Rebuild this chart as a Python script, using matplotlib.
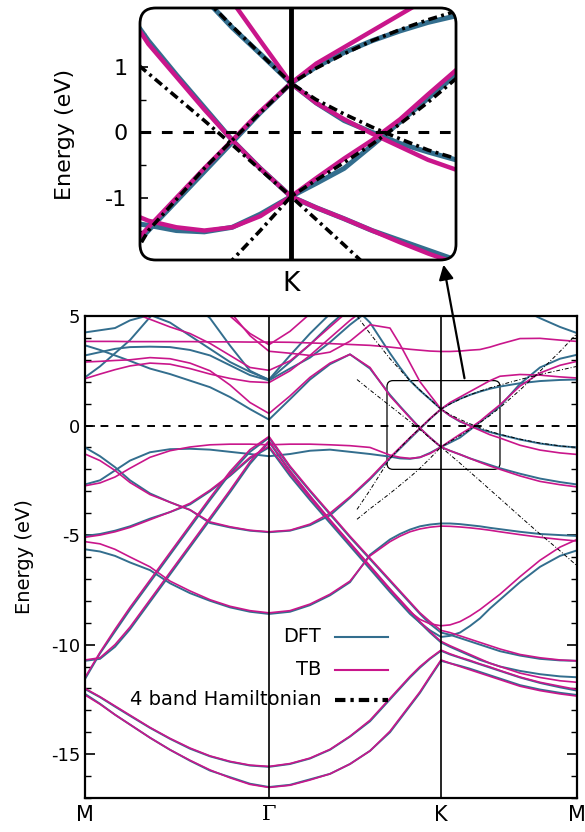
import matplotlib
matplotlib.use("Agg")
import numpy as np
import matplotlib.pyplot as plt
from matplotlib.patches import FancyBboxPatch, FancyArrowPatch
from matplotlib.ticker import MultipleLocator

plt.rcParams['axes.unicode_minus'] = False

# path coordinate: M=0, Gamma=1.84, K=3.56, M=4.92
k = [0.00, 0.15, 0.30, 0.45, 0.65, 0.85, 1.05, 1.25, 1.45, 1.65, 1.84,
     2.05, 2.25, 2.45, 2.65, 2.85, 3.05, 3.15, 3.25, 3.35, 3.45, 3.56,
     3.65, 3.75, 3.85, 3.95, 4.05, 4.15, 4.35, 4.55, 4.75, 4.92]
k_ticks = [0.00, 1.84, 3.56, 4.92]
k_labels = ['M', 'Γ', 'K', 'M']

# DFT bands (eV)
dft_b1 = [-12.25, -12.7, -13.2, -13.65, -14.25, -14.8, -15.3, -15.75, -16.05, -16.35, -16.5,
          -16.4, -16.15, -15.9, -15.45, -14.85, -14.0, -13.4, -12.8, -12.2, -11.5, -10.74,
          -10.85, -10.97, -11.1, -11.25, -11.4, -11.55, -11.85, -12.05, -12.2, -12.3]
dft_b2 = [-12.03, -12.4, -12.83, -13.25, -13.8, -14.3, -14.75, -15.1, -15.35, -15.52, -15.58,
          -15.45, -15.2, -14.8, -14.2, -13.5, -12.5, -12.0, -11.5, -11.05, -10.65, -10.28,
          -10.45, -10.6, -10.75, -10.9, -11.05, -11.2, -11.5, -11.75, -11.95, -12.1]
dft_s1 = [-11.57, -10.4, -9.4, -8.4, -7.15, -5.9, -4.65, -3.4, -2.2, -1.2, -0.55,
          -1.9, -3.0, -4.05, -5.1, -6.1, -7.1, -7.6, -8.1, -8.6, -9.05, -9.45,
          -9.55, -9.7, -9.85, -10.0, -10.15, -10.3, -10.5, -10.65, -10.72, -10.74]
dft_s2 = [-10.74, -10.65, -10.1, -9.3, -8.05, -6.8, -5.55, -4.3, -3.05, -1.75, -0.75,
          -2.1, -3.25, -4.35, -5.4, -6.45, -7.5, -8.0, -8.5, -9.0, -9.45, -9.9,
          -10.1, -10.3, -10.5, -10.7, -10.85, -11.0, -11.2, -11.35, -11.45, -11.49]
dft_p1 = [-5.04, -4.95, -4.8, -4.6, -4.25, -3.95, -3.6, -3.0, -2.3, -1.5, -1.0,
          -2.3, -3.4, -4.45, -5.5, -6.55, -7.6, -8.1, -8.6, -9.0, -9.35, -9.65,
          -9.6, -9.45, -9.15, -8.8, -8.35, -7.95, -7.15, -6.45, -5.95, -5.7]
dft_f1 = [-5.65, -5.75, -5.95, -6.25, -6.6, -7.2, -7.65, -8.0, -8.3, -8.5, -8.6,
          -8.5, -8.2, -7.75, -7.15, -5.9, -5.2, -4.95, -4.75, -4.6, -4.52, -4.47,
          -4.47, -4.5, -4.55, -4.6, -4.67, -4.73, -4.85, -4.95, -5.0, -5.04]
dft_vb = [-1.0, -1.4, -1.9, -2.5, -3.1, -3.5, -3.85, -4.45, -4.65, -4.8, -4.87,
          -4.8, -4.55, -4.1, -3.3, -2.45, -1.5, -1.05, -0.6, -0.15, 0.3, 0.75,
          1.0, 1.22, 1.4, 1.55, 1.68, 1.78, 1.93, 2.03, 2.08, 2.1]
dft_vf = [-2.69, -2.5, -2.05, -1.6, -1.22, -1.08, -1.06, -1.1, -1.2, -1.3, -1.4,
          -1.3, -1.15, -1.1, -1.2, -1.3, -1.42, -1.5, -1.52, -1.45, -1.25, -0.98,
          -0.78, -0.55, -0.2, 0.16, 0.52, 0.88, 1.9, 2.65, 3.05, 3.23]
dft_c1 = [3.66, 3.45, 3.2, 2.95, 2.6, 2.35, 2.05, 1.75, 1.3, 0.75, 0.27,
          1.2, 2.1, 2.8, 3.25, 2.6, 1.4, 0.88, 0.38, -0.12, -0.55, -0.98,
          -1.15, -1.32, -1.5, -1.65, -1.8, -1.95, -2.2, -2.42, -2.58, -2.69]
dft_c2 = [7.5, 7.5, 7.4, 7.3, 7.2, 7.1, 7.0, 6.9, 6.8, 6.7, 6.6,
          6.5, 6.4, 6.1, 5.6, 4.7, 3.3, 2.65, 2.05, 1.6, 1.2, 0.75,
          0.45, 0.18, 0.0, -0.17, -0.3, -0.42, -0.64, -0.82, -0.94, -1.0]
dft_c3 = [3.2, 3.35, 3.5, 3.58, 3.6, 3.58, 3.45, 3.2, 2.75, 2.3, 2.06,
          2.6, 3.1, 3.8, 4.6, 5.3, 5.9, 6.2, 6.4, 6.5, 6.55, 6.6,
          6.5, 6.4, 6.25, 6.1, 5.95, 5.8, 5.35, 4.9, 4.5, 4.22]
dft_c4 = [2.2, 2.7, 3.3, 3.9, 4.95, 5.8, 5.7, 4.9, 3.65, 2.5, 2.08,
          2.9, 3.7, 4.6, 5.4, 6.0, 6.5, 6.7, 6.8, 6.9, 7.0, 7.0,
          7.0, 7.0, 7.0, 7.0, 6.9, 6.8, 6.6, 6.4, 6.2, 6.0]
dft_c5 = [4.25, 4.35, 4.45, 4.8, 5.05, 4.7, 4.1, 3.5, 2.9, 2.45, 2.1,
          3.2, 4.2, 5.1, 5.8, 6.3, 6.5, 6.6, 6.7, 6.8, 6.9, 7.0,
          7.0, 7.0, 7.0, 7.0, 7.0, 7.0, 7.0, 7.0, 7.0, 7.0]

# TB bands (eV)
tb_b1 = [-12.3, -12.72, -13.2, -13.65, -14.25, -14.8, -15.28, -15.72, -16.08, -16.38, -16.52,
         -16.42, -16.18, -15.9, -15.45, -14.85, -13.95, -13.35, -12.75, -12.15, -11.45, -10.7,
         -10.85, -11.0, -11.15, -11.3, -11.45, -11.6, -11.9, -12.1, -12.25, -12.35]
tb_b2 = [-12.0, -12.38, -12.8, -13.22, -13.78, -14.28, -14.72, -15.08, -15.33, -15.5, -15.56,
         -15.43, -15.18, -14.78, -14.18, -13.45, -12.45, -11.95, -11.45, -11.0, -10.62, -10.25,
         -10.42, -10.58, -10.72, -10.88, -11.02, -11.18, -11.48, -11.72, -11.9, -12.05]
tb_s1 = [-11.5, -10.35, -9.3, -8.3, -7.05, -5.8, -4.55, -3.3, -2.1, -1.1, -0.5,
         -1.85, -2.95, -4.0, -5.05, -6.05, -7.05, -7.55, -8.05, -8.55, -8.95, -9.35,
         -9.45, -9.6, -9.75, -9.9, -10.05, -10.2, -10.45, -10.6, -10.7, -10.74]
tb_s2 = [-10.7, -10.6, -10.0, -9.2, -7.95, -6.7, -5.45, -4.2, -2.95, -1.65, -0.7,
         -2.05, -3.2, -4.3, -5.35, -6.4, -7.45, -7.95, -8.45, -8.95, -9.4, -9.85,
         -10.05, -10.25, -10.45, -10.65, -10.85, -11.0, -11.3, -11.5, -11.65, -11.72]
tb_p1 = [-5.1, -5.0, -4.85, -4.65, -4.3, -3.95, -3.55, -2.95, -2.25, -1.45, -0.95,
         -2.2, -3.3, -4.35, -5.4, -6.45, -7.5, -8.0, -8.5, -8.85, -9.05, -9.14,
         -9.1, -8.95, -8.7, -8.4, -8.05, -7.7, -6.9, -6.15, -5.55, -5.2]
tb_f1 = [-5.3, -5.4, -5.65, -6.0, -6.45, -7.1, -7.55, -7.95, -8.25, -8.45, -8.55,
         -8.45, -8.15, -7.7, -7.1, -5.95, -5.3, -5.05, -4.85, -4.72, -4.64, -4.59,
         -4.6, -4.63, -4.67, -4.72, -4.78, -4.85, -4.98, -5.1, -5.2, -5.27]
tb_vb = [-1.3, -1.6, -2.05, -2.6, -3.15, -3.5, -3.85, -4.4, -4.62, -4.78, -4.85,
         -4.78, -4.5, -4.0, -3.25, -2.4, -1.45, -1.0, -0.55, -0.12, 0.32, 0.75,
         1.05, 1.3, 1.55, 1.8, 2.05, 2.25, 2.33, 2.3, 2.22, 2.17]
tb_vf = [-2.75, -2.62, -2.35, -1.95, -1.45, -1.15, -0.98, -0.88, -0.85, -0.85, -0.88,
         -0.85, -0.85, -0.88, -0.92, -1.0, -1.35, -1.45, -1.5, -1.45, -1.28, -0.98,
         -0.7, -0.4, -0.12, 0.2, 0.58, 0.95, 1.8, 2.4, 2.75, 2.93]
tb_c1 = [2.9, 2.93, 2.97, 3.0, 3.1, 3.05, 2.85, 2.5, 1.85, 1.05, 0.55,
         1.35, 2.2, 2.85, 3.25, 2.65, 1.35, 0.85, 0.35, -0.12, -0.55, -0.98,
         -1.15, -1.32, -1.5, -1.68, -1.85, -2.0, -2.3, -2.55, -2.7, -2.8]
tb_c2 = [7.5, 7.4, 7.3, 7.2, 7.0, 6.8, 6.5, 5.9, 5.2, 4.1, 3.39,
         3.3, 3.2, 3.35, 3.85, 4.6, 4.45, 3.7, 2.85, 2.0, 1.4, 0.75,
         0.45, 0.2, -0.02, -0.22, -0.42, -0.57, -0.9, -1.12, -1.25, -1.32]
tb_pa = [3.84, 3.84, 3.84, 3.83, 3.83, 3.83, 3.83, 3.82, 3.82, 3.81, 3.81,
         3.8, 3.77, 3.74, 3.7, 3.66, 3.58, 3.53, 3.48, 3.44, 3.4, 3.38,
         3.38, 3.4, 3.44, 3.47, 3.58, 3.72, 3.97, 3.98, 3.9, 3.84]
tb_u1 = [2.14, 2.35, 2.55, 2.72, 2.85, 2.8, 2.6, 2.35, 2.15, 2.0, 1.96,
         2.5, 3.2, 4.0, 4.8, 5.5, 6.0, 6.2, 6.4, 6.5, 6.6, 6.6,
         6.6, 6.55, 6.5, 6.4, 6.3, 6.2, 6.0, 5.8, 5.6, 5.5]
tb_u3 = [6.0, 5.8, 5.5, 5.2, 4.85, 4.5, 4.2, 3.75, 3.2, 2.65, 2.52,
         2.95, 3.7, 4.5, 5.3, 6.0, 6.5, 6.5, 6.5, 6.5, 6.5, 6.5,
         6.5, 6.5, 6.5, 6.5, 6.5, 6.5, 6.5, 6.5, 6.5, 6.5]
tb_u4 = [7.0, 7.0, 7.0, 7.0, 7.0, 6.8, 6.5, 6.1, 5.0, 4.2, 3.69,
         4.3, 5.1, 5.8, 6.3, 6.8, 7.0, 7.0, 7.0, 7.0, 7.0, 7.0,
         7.0, 7.0, 7.0, 7.0, 7.0, 7.0, 7.0, 7.0, 7.0, 7.0]

# 4 band Hamiltonian, only around K
k4 = [2.72, 2.85, 3.05, 3.25, 3.35, 3.45, 3.56, 3.65, 3.75, 3.85, 3.95,
      4.05, 4.15, 4.35, 4.55, 4.75, 4.92]
h4_a = [2.1, 1.62, 0.9, 0.18, -0.19, -0.57, -0.98, -1.33, -1.72, -2.12, -2.52,
        -2.93, -3.33, -4.15, -4.95, -5.72, -6.4]
h4_b = [-3.83, -2.95, -1.5, -0.55, -0.12, 0.3, 0.75, 0.98, 1.2, 1.4, 1.57,
        1.72, 1.85, 2.1, 2.33, 2.53, 2.7]
h4_c = [-4.28, -3.8, -3.1, -2.35, -1.95, -1.5, -0.98, -0.73, -0.46, -0.18, 0.13,
        0.46, 0.82, 1.62, 2.48, 3.38, 4.2]
h4_d = [5.0, 4.2, 3.05, 2.05, 1.62, 1.2, 0.75, 0.5, 0.28, 0.08, -0.1,
        -0.27, -0.4, -0.62, -0.8, -0.93, -1.0]

dft_bands = [dft_b1, dft_b2, dft_s1, dft_s2, dft_p1, dft_f1, dft_vb, dft_vf,
             dft_c1, dft_c2, dft_c3, dft_c4, dft_c5]
tb_bands = [tb_b1, tb_b2, tb_s1, tb_s2, tb_p1, tb_f1, tb_vb, tb_vf,
            tb_c1, tb_c2, tb_pa, tb_u1, tb_u3, tb_u4]
h4_bands = [h4_a, h4_b, h4_c, h4_d]

c_dft = "#336e8e"
c_tb = "#c9168b"
dashdot = (2.5, 1.2, 0.8, 1.2)

fig = plt.figure(figsize=(5.85, 8.32), dpi=100)

# ---------------- main panel ----------------
ax = fig.add_axes([0.1453, 0.0409, 0.841, 0.5793])
for e in dft_bands:
    ax.plot(k, e, color=c_dft, lw=1.4, solid_joinstyle='round')
for e in tb_bands:
    ax.plot(k, e, color=c_tb, lw=1.2, solid_joinstyle='round')
for e in h4_bands:
    ax.plot(k4, e, color='black', lw=0.7, dashes=(4, 2, 1, 2))

ax.axhline(0, color='black', lw=1.4, dashes=(4, 4))
for kk in k_ticks[1:3]:
    ax.axvline(kk, color='black', lw=1.2)

ax.set_xlim(0, 4.92)
ax.set_ylim(-17, 5)
ax.set_xticks(k_ticks)
ax.set_xticklabels(k_labels, fontsize=15)
ax.get_xticklabels()[1].set_family('DejaVu Serif')
ax.tick_params(axis='x', length=0, pad=5)
ax.set_yticks([-15, -10, -5, 0, 5])
ax.yaxis.set_minor_locator(MultipleLocator(1))
ax.tick_params(axis='y', which='both', direction='in', right=True, labelsize=13)
ax.tick_params(axis='y', which='major', length=7, width=1.2)
ax.tick_params(axis='y', which='minor', length=4, width=1.0)
ax.set_ylabel("Energy (eV)", fontsize=14, labelpad=12)
for s in ax.spines.values():
    s.set_linewidth(1.6)

# zoom box around K
box = FancyBboxPatch((3.02, -2.0), 1.13, 4.05, boxstyle="round,pad=0,rounding_size=0.06",
                     mutation_aspect=4.56, fill=False, lw=0.9, ec='black')
ax.add_patch(box)

# legend, drawn gnuplot style (label right-aligned, sample to the right)
leg_items = [("DFT", dict(color=c_dft, lw=1.5)),
             ("TB", dict(color=c_tb, lw=1.5)),
             ("4 band Hamiltonian", dict(color='black', lw=3, dashes=dashdot))]
leg_y = [0.334, 0.2656, 0.2033]
for (lab, st), yy in zip(leg_items, leg_y):
    ax.text(0.48, yy, lab, transform=ax.transAxes, ha='right', va='center', fontsize=14)
    ax.plot([0.508, 0.616], [yy, yy], transform=ax.transAxes, **st)

# ---------------- inset ----------------
ax_in = fig.add_axes([0.2393, 0.6875, 0.5402, 0.3029])
frame = FancyBboxPatch((0, 0), 1, 1, boxstyle="round,pad=0,rounding_size=0.05",
                       mutation_aspect=1.254, transform=ax_in.transAxes,
                       fill=False, lw=2.0, ec='black', clip_on=False, zorder=10)
ax_in.add_patch(frame)
lines = []
for e in dft_bands:
    lines += ax_in.plot(k, e, color=c_dft, lw=3.6, solid_joinstyle='round')
for e in tb_bands:
    lines += ax_in.plot(k, e, color=c_tb, lw=3.2, solid_joinstyle='round')
for e in h4_bands:
    lines += ax_in.plot(k4, e, color='black', lw=2.6, dashes=dashdot)
lines.append(ax_in.axhline(0, color='black', lw=2.2, dashes=(3.5, 3.5)))
lines.append(ax_in.axvline(3.56, color='black', lw=3.5))
for l in lines:
    l.set_clip_path(frame)

ax_in.set_xlim(3.02, 4.15)
ax_in.set_ylim(-1.95, 1.9)
for s in ax_in.spines.values():
    s.set_visible(False)
ax_in.set_xticks([3.56])
ax_in.set_xticklabels(['K'], fontsize=19)
ax_in.tick_params(axis='x', length=0, pad=8)
ax_in.set_yticks([-1, 0, 1])
ax_in.yaxis.set_minor_locator(MultipleLocator(0.5))
ax_in.tick_params(axis='y', which='both', direction='in', labelsize=16, pad=9)
ax_in.tick_params(axis='y', which='major', length=6, width=1.2)
ax_in.tick_params(axis='y', which='minor', length=4, width=1.0)
ax_in.set_ylabel("Energy (eV)", fontsize=16, labelpad=22)

# arrow from zoom box to inset
arr = FancyArrowPatch((465 / 585, 1 - 381 / 832), (443 / 585, 1 - 262 / 832),
                      transform=fig.transFigure, arrowstyle='-|>', mutation_scale=22,
                      lw=1.6, color='black')
fig.add_artist(arr)

fig.savefig("out.png", dpi=100)
plt.close(fig)
